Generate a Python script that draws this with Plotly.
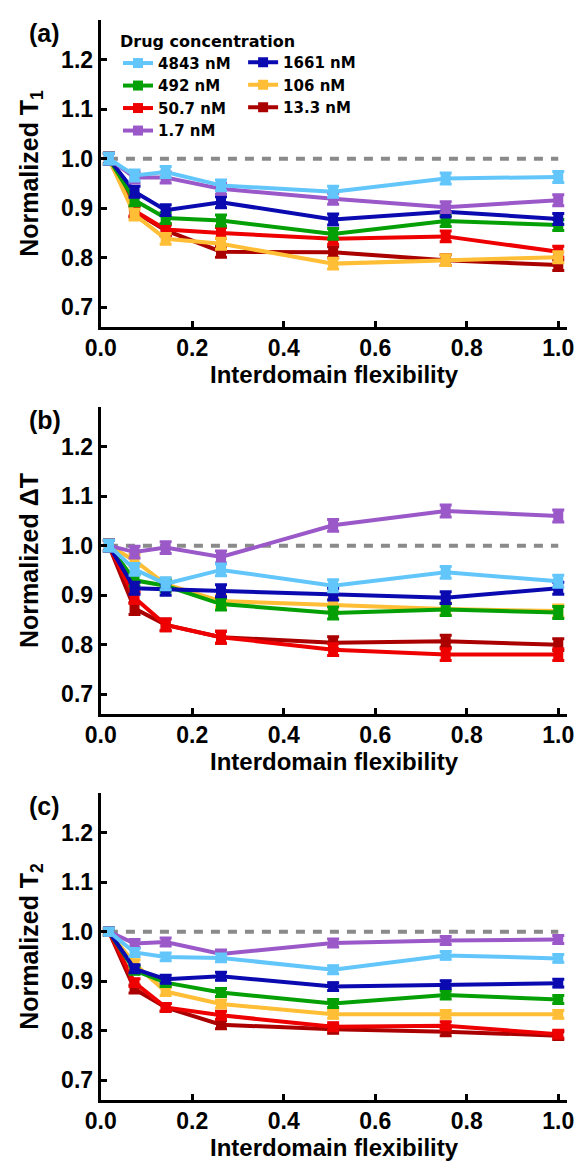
import plotly.graph_objects as go

# ---------------- data ----------------
X = [0.018, 0.074, 0.142, 0.263, 0.508, 0.754, 1.0]
CONC = ["4843 nM", "1661 nM", "492 nM", "106 nM", "50.7 nM", "13.3 nM", "1.7 nM"]

T1_4843 = [1.0, 0.966, 0.973, 0.946, 0.933, 0.960, 0.963]
T1_1661 = [1.0, 0.933, 0.896, 0.912, 0.877, 0.893, 0.878]
T1_492 = [1.0, 0.916, 0.880, 0.875, 0.848, 0.874, 0.866]
T1_106 = [1.0, 0.887, 0.838, 0.828, 0.788, 0.795, 0.801]
T1_50 = [1.0, 0.895, 0.857, 0.850, 0.838, 0.843, 0.812]
T1_13 = [1.0, 0.893, 0.855, 0.812, 0.811, 0.795, 0.785]
T1_1p7 = [1.0, 0.962, 0.962, 0.939, 0.919, 0.902, 0.916]

DT_4843 = [1.0, 0.952, 0.923, 0.951, 0.919, 0.946, 0.928]
DT_1661 = [1.0, 0.914, 0.912, 0.909, 0.902, 0.895, 0.914]
DT_492 = [1.0, 0.930, 0.919, 0.882, 0.864, 0.871, 0.865]
DT_106 = [1.0, 0.970, 0.922, 0.888, 0.880, 0.872, 0.868]
DT_50 = [1.0, 0.895, 0.840, 0.815, 0.790, 0.780, 0.780]
DT_13 = [1.0, 0.873, 0.840, 0.815, 0.804, 0.807, 0.800]
DT_1p7 = [1.0, 0.987, 0.996, 0.977, 1.041, 1.070, 1.060]

T2_4843 = [1.0, 0.958, 0.949, 0.947, 0.923, 0.952, 0.946]
T2_1661 = [1.0, 0.925, 0.904, 0.910, 0.889, 0.893, 0.896]
T2_492 = [1.0, 0.922, 0.897, 0.877, 0.855, 0.872, 0.863]
T2_106 = [1.0, 0.935, 0.879, 0.854, 0.833, 0.833, 0.833]
T2_50 = [1.0, 0.897, 0.847, 0.831, 0.808, 0.810, 0.793]
T2_13 = [1.0, 0.884, 0.847, 0.812, 0.803, 0.798, 0.790]
T2_1p7 = [1.0, 0.976, 0.979, 0.955, 0.977, 0.982, 0.984]

ERR_A = [0.011, 0.011, 0.011, 0.011, 0.011, 0.011, 0.011]
ERR_B = [0.011, 0.012, 0.012, 0.012, 0.012, 0.012, 0.012]
ERR_C = [0.007, 0.008, 0.008, 0.008, 0.008, 0.008, 0.008]

REF_X = [0.018, 1.0]
REF_Y = [1.0, 1.0]

Y_TICKS = [0.7, 0.8, 0.9, 1.0, 1.1, 1.2]
X_TICKS = [0.0, 0.2, 0.4, 0.6, 0.8, 1.0]

# ---------------- style ----------------
COLORS = {
    "4843 nM": "#62C6FB",
    "1661 nM": "#0A0AB0",
    "492 nM": "#05A005",
    "106 nM": "#FFBE35",
    "50.7 nM": "#EE0000",
    "13.3 nM": "#AA0000",
    "1.7 nM": "#9A58C8",
}
DRAW_ORDER = ["13.3 nM", "50.7 nM", "106 nM", "492 nM", "1661 nM", "1.7 nM", "4843 nM"]
LEGEND_OF = {"4843 nM": ("legend", 1), "492 nM": ("legend", 2), "50.7 nM": ("legend", 3),
             "1.7 nM": ("legend", 4), "1661 nM": ("legend2", 1), "106 nM": ("legend2", 2),
             "13.3 nM": ("legend2", 3)}

panels = [
    ({"4843 nM": T1_4843, "1661 nM": T1_1661, "492 nM": T1_492, "106 nM": T1_106,
      "50.7 nM": T1_50, "13.3 nM": T1_13, "1.7 nM": T1_1p7}, ERR_A,
     "Normalized T<sub>1</sub>", "(a)"),
    ({"4843 nM": DT_4843, "1661 nM": DT_1661, "492 nM": DT_492, "106 nM": DT_106,
      "50.7 nM": DT_50, "13.3 nM": DT_13, "1.7 nM": DT_1p7}, ERR_B,
     "Normalized \u0394T", "(b)"),
    ({"4843 nM": T2_4843, "1661 nM": T2_1661, "492 nM": T2_492, "106 nM": T2_106,
      "50.7 nM": T2_50, "13.3 nM": T2_13, "1.7 nM": T2_1p7}, ERR_C,
     "Normalized T<sub>2</sub>", "(c)"),
]

W, H = 584, 1161
FONT = "Liberation Sans, Arial, Helvetica, sans-serif"
LEFT, RIGHT = 88, 573
TOPS = [20, 407, 793]
PH = 307

fig = go.Figure()
layout = dict(
    width=W, height=H, margin=dict(l=0, r=0, t=0, b=0),
    paper_bgcolor="white", plot_bgcolor="white",
    font=dict(family=FONT, color="black", size=22),
    annotations=[],
)

for i, (series, err, ytitle, tag) in enumerate(panels):
    n = "" if i == 0 else str(i + 1)
    xa, ya = "x" + n, "y" + n
    top = TOPS[i]
    y1 = 1 - top / H
    y0 = 1 - (top + PH) / H
    common = dict(showline=True, linecolor="black", linewidth=3, ticks="inside",
                  ticklen=6, tickwidth=2.5, tickcolor="black", showgrid=False,
                  zeroline=False, tickfont=dict(family=FONT, size=23, weight="bold"))
    layout["xaxis" + n] = dict(common, domain=[LEFT / W, RIGHT / W], range=[0, 1.02],
                               anchor=ya, tickvals=X_TICKS, tickformat=".1f",
                               ticklabelstandoff=-2,
                               title=dict(text="<b>Interdomain flexibility</b>",
                                          font=dict(family=FONT, size=24), standoff=5))
    layout["yaxis" + n] = dict(common, domain=[y0, y1], range=[0.66, 1.28],
                               anchor=xa, tickvals=Y_TICKS, tickformat=".1f",
                               title=dict(text="<b>" + ytitle + "</b>",
                                          font=dict(family=FONT, size=25), standoff=16))
    # reference dashed line
    fig.add_trace(go.Scatter(x=REF_X, y=REF_Y, mode="lines", xaxis=xa, yaxis=ya,
                             line=dict(color="#8A8A8A", width=4, dash="9px,8px"),
                             showlegend=False, hoverinfo="skip"))
    for c in DRAW_ORDER:
        lg, rank = LEGEND_OF[c]
        fig.add_trace(go.Scatter(
            x=X, y=series[c], mode="lines+markers", name="<b>" + c + "</b>",
            xaxis=xa, yaxis=ya,
            line=dict(color=COLORS[c], width=4),
            marker=dict(symbol="square", size=10, color=COLORS[c]),
            error_y=dict(type="data", array=err, color=COLORS[c], thickness=3, width=6),
            showlegend=(i == 0), legend=lg, legendrank=rank,
        ))
    layout["annotations"].append(dict(
        text="<b>" + tag + "</b>", x=11 / W, y=1 - (top - 3) / H, xref="paper", yref="paper",
        xanchor="left", yanchor="top", showarrow=False, font=dict(family=FONT, size=25)))

LEG_FONT = dict(family="DejaVu Sans, sans-serif", size=15, weight="bold", color="black")
layout["legend"] = dict(
    x=106 / W, y=1 - 26 / H, xanchor="left", yanchor="top", xref="paper", yref="paper",
    bgcolor="rgba(0,0,0,0)", borderwidth=0, font=LEG_FONT, traceorder="normal",
    itemwidth=30, tracegroupgap=0,
    title=dict(text="<b>Drug concentration</b>", font=dict(family="DejaVu Sans, sans-serif", size=16)),
)
layout["legend2"] = dict(
    x=236 / W, y=1 - 46 / H, xanchor="left", yanchor="top", xref="paper", yref="paper",
    bgcolor="rgba(0,0,0,0)", borderwidth=0, font=LEG_FONT, traceorder="normal",
    itemwidth=30, tracegroupgap=0,
)
fig.update_layout(**layout)
fig.write_html("out.html",
               post_script="document.body.style.margin='0';document.body.style.padding='0';")
